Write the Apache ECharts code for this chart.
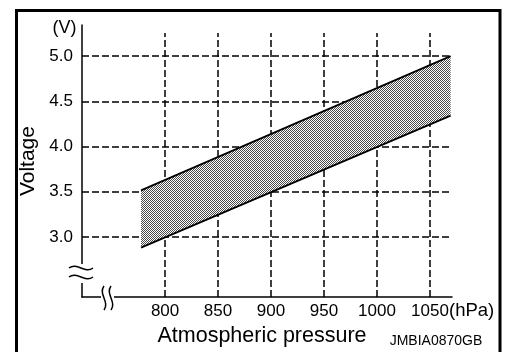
<!DOCTYPE html>
<html><head><meta charset="utf-8">
<script src="https://cdn.jsdelivr.net/npm/echarts@6/dist/echarts.min.js"></script>
<style>html,body{margin:0;padding:0;background:#fff}#c{width:506px;height:352px}</style>
</head><body><div id="c"></div>
<script>
// ---- data ----
const pressure = [777.3, 1069.5];          // hPa, ends of the band
const upperV = [3.515, 5.0];               // upper limit (V)
const lowerV = [2.883, 4.342];             // lower limit (V)
const xTicks = [800, 850, 900, 950, 1000, 1050];
const yTicks = [3.0, 3.5, 4.0, 4.5, 5.0];
const xRange = [721.6, 1070.8];
const yRange = [2.335, 5.345];
const vGridTop = 5.257;

// ---- pattern for band ----
const pc = document.createElement('canvas'); pc.width = 4; pc.height = 4;
const g = pc.getContext('2d');
g.fillStyle = '#fff'; g.fillRect(0, 0, 4, 4);
g.fillStyle = '#4a4a4a';
for (let yy = 0; yy < 4; yy++) for (let xx = 0; xx < 4; xx++) if ((xx + yy) % 2 === 0) g.fillRect(xx, yy, 1, 1);

const lowerData = pressure.map((p, i) => [p, lowerV[i]]);
const upperData = pressure.map((p, i) => [p, upperV[i]]);

const dash = { type: [7, 3], width: 1.5, color: '#000' };
const gridLines = [];
yTicks.forEach(v => gridLines.push([{ coord: [xRange[0], v] }, { coord: [xRange[1], v] }]));
xTicks.forEach(p => gridLines.push([{ coord: [p, yRange[0]] }, { coord: [p, vGridTop] }]));

const FONT = 'Liberation Sans';
const chart = echarts.init(document.getElementById('c'), null, { renderer: 'canvas' });

function tilde(cx, cy, vertical) {
  const w = 12, a = 6;
  const s = vertical
    ? { x1: cx, y1: cy - w, cpx1: cx - a, cpy1: cy - w / 3, cpx2: cx + a, cpy2: cy + w / 3, x2: cx, y2: cy + w }
    : { x1: cx - w, y1: cy, cpx1: cx - w / 3, cpy1: cy - a, cpx2: cx + w / 3, cpy2: cy + a, x2: cx + w, y2: cy };
  return { type: 'bezierCurve', shape: s, style: { stroke: '#000', lineWidth: 1.5, fill: null }, z: 20 };
}

chart.setOption({
  animation: false,
  backgroundColor: '#fff',
  grid: { left: 82, right: 54, top: 25, bottom: 54 },
  xAxis: {
    type: 'value', min: xRange[0], max: xRange[1],
    axisLine: { show: true, lineStyle: { color: '#000', width: 1.5 } },
    axisTick: { show: false },
    splitLine: { show: false },
    axisLabel: { customValues: xTicks, color: '#000', fontFamily: FONT, fontSize: 17, margin: 6,
      formatter: v => String(v) },
    name: 'Atmospheric pressure', nameLocation: 'middle', nameGap: 27,
    nameTextStyle: { color: '#000', fontFamily: FONT, fontSize: 21.5, padding: [0, 10, 0, 0] }
  },
  yAxis: {
    type: 'value', min: yRange[0], max: yRange[1],
    axisLine: { show: true, lineStyle: { color: '#000', width: 1.5 } },
    axisTick: { show: false },
    splitLine: { show: false },
    axisLabel: { customValues: yTicks, color: '#000', fontFamily: FONT, fontSize: 17, margin: 9,
      formatter: v => v.toFixed(1) },
    name: 'Voltage', nameLocation: 'middle', nameGap: 38,
    nameTextStyle: { color: '#000', fontFamily: FONT, fontSize: 21 }
  },
  series: [
    { type: 'line', data: [], silent: true, z: 1,
      markLine: { silent: true, symbol: 'none', z: 1, label: { show: false }, lineStyle: dash,
        emphasis: { disabled: true }, data: gridLines } },
    { type: 'custom', z: 3, silent: true, data: [lowerData[0]],
      renderItem: (params, api) => {
        const pts = [];
        pressure.forEach((p, i) => pts.push(api.coord([p, lowerV[i]])));
        for (let i = pressure.length - 1; i >= 0; i--) pts.push(api.coord([pressure[i], upperV[i]]));
        return { type: 'polygon', shape: { points: pts },
          style: { fill: { image: pc, repeat: 'repeat' }, stroke: null } };
      } },
    { type: 'line', data: lowerData, symbol: 'none', z: 4, lineStyle: { color: '#000', width: 1.8 } },
    { type: 'line', data: upperData, symbol: 'none', z: 4, lineStyle: { color: '#000', width: 1.8 } }
  ],
  graphic: [
    { type: 'rect', shape: { x: 16.5, y: 10.5, width: 483.5, height: 360 },
      style: { fill: null, stroke: '#000', lineWidth: 3 }, z: 30 },
    { type: 'text', x: 64.5, y: 28, style: { text: '(V)', fill: '#000', font: '18px "Liberation Sans"',
      align: 'center', verticalAlign: 'middle' }, z: 20 },
    { type: 'text', x: 449, y: 311, style: { text: '(hPa)', fill: '#000', font: '18.5px "Liberation Sans"',
      align: 'left', verticalAlign: 'middle' }, z: 20 },
    { type: 'text', x: 436, y: 341, style: { text: 'JMBIA0870GB', fill: '#000', font: '14px "Liberation Sans"',
      align: 'center', verticalAlign: 'middle' }, z: 20 },
    { type: 'rect', shape: { x: 78, y: 264, width: 8, height: 19 }, style: { fill: '#fff' }, z: 15 },
    { type: 'rect', shape: { x: 101, y: 293, width: 13, height: 10 }, style: { fill: '#fff' }, z: 15 },
    tilde(81, 268, false), tilde(81, 277, false),
    tilde(104, 298, true), tilde(111, 298, true)
  ]
});
</script></body></html>
